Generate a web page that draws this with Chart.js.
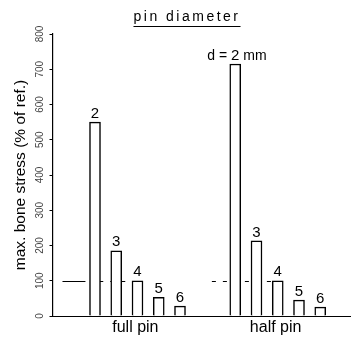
<!DOCTYPE html>
<html>
<head>
<meta charset="utf-8">
<script src="https://cdn.jsdelivr.net/npm/chart.js@4/dist/chart.umd.min.js"></script>
<style>
  html, body { margin: 0; padding: 0; background: #fff; }
  #wrap { width: 355px; height: 343px; }
</style>
</head>
<body>
<div id="wrap"><canvas id="stress"></canvas></div>
<script>
// Data
var diameters = [2, 3, 4, 5, 6];            // pin diameter d (mm)
var fullPin = [550, 185, 100, 53, 28];      // max bone stress, % of ref.
var halfPin = [715, 213, 100, 45, 25];
var groups = ['full pin', 'half pin'];
var yTicks = [0, 100, 200, 300, 400, 500, 600, 700, 800];
var refLevel = 100;

// layout only: where the half pin group sits on the x scale
var HALF_SHIFT = 6.6;
var groupCentres = [3.9, 3.9 + HALF_SHIFT];

var FONT = '"Liberation Sans", "DejaVu Sans", sans-serif';

// reference level (100 %) drawn behind the bars
var refLine = {
    id: 'refLine',
    beforeDatasetsDraw: function (chart) {
        var x = chart.scales.x, y = chart.scales.y;
        var py = Math.round(y.getPixelForValue(refLevel)) + 0.5;
        var ctx = chart.ctx;
        ctx.save();
        ctx.strokeStyle = '#000';
        ctx.lineWidth = 1;
        // full pin: solid lead-in then dashed
        ctx.beginPath();
        ctx.moveTo(x.getPixelForValue(0.47), py);
        ctx.lineTo(x.getPixelForValue(1.55), py);
        ctx.stroke();
        ctx.setLineDash([4, 7]);
        ctx.beginPath();
        ctx.moveTo(x.getPixelForValue(2.2), py);
        ctx.lineTo(x.getPixelForValue(4), py);
        ctx.moveTo(x.getPixelForValue(7.5), py);
        ctx.lineTo(x.getPixelForValue(4 + HALF_SHIFT), py);
        ctx.stroke();
        ctx.restore();
    }
};

// numbers above the bars, title with underline
var labels = {
    id: 'labels',
    afterDatasetsDraw: function (chart) {
        var ctx = chart.ctx;
        ctx.save();
        ctx.fillStyle = '#000';
        ctx.strokeStyle = '#000';
        ctx.textBaseline = 'bottom';
        chart.data.datasets.forEach(function (ds, di) {
            chart.getDatasetMeta(di).data.forEach(function (bar, i) {
                var txt = String(diameters[i]);
                ctx.font = '15px ' + FONT;
                ctx.textAlign = 'center';
                ctx.fillText(txt, bar.x, bar.y - 1);
                if (di === 1 && i === 0) {
                    var w = ctx.measureText(txt).width / 2;
                    ctx.font = '14px ' + FONT;
                    ctx.textAlign = 'right';
                    ctx.fillText('d = ', bar.x - w, bar.y - 1);
                    ctx.textAlign = 'left';
                    ctx.fillText(' mm', bar.x + w, bar.y - 1);
                }
            });
        });
        // title
        var cx = 187, ty = 21;
        ctx.font = '14px ' + FONT;
        ctx.letterSpacing = '2.5px';
        ctx.textAlign = 'center';
        ctx.textBaseline = 'alphabetic';
        var title = 'pin diameter';
        ctx.fillText(title, cx, ty);
        var tw = ctx.measureText(title).width;
        ctx.lineWidth = 1;
        ctx.beginPath();
        ctx.moveTo(cx - tw / 2, ty + 5.5);
        ctx.lineTo(cx + tw / 2, ty + 5.5);
        ctx.stroke();
        ctx.restore();
    }
};

function barSet(values, shift) {
    return {
        data: diameters.map(function (d, i) { return { x: d + shift, y: values[i] }; }),
        backgroundColor: '#fff',
        borderColor: '#000',
        borderWidth: 1.5,
        borderSkipped: 'bottom',
        barThickness: 11,
        grouped: false
    };
}

var ctx = document.getElementById('stress').getContext('2d');
var chart = new Chart(ctx, {
    type: 'bar',
    data: {
        datasets: [barSet(fullPin, 0), barSet(halfPin, HALF_SHIFT)]
    },
    options: {
        responsive: true,
        maintainAspectRatio: false,
        animation: false,
        layout: { padding: { top: 34, right: 5, left: 11.7, bottom: 3.8 } },
        plugins: {
            legend: { display: false },
            tooltip: { enabled: false },
            title: { display: false }
        },
        scales: {
            x: {
                type: 'linear',
                min: 0,
                max: 14,
                offset: false,
                afterBuildTicks: function (scale) {
                    scale.ticks = groupCentres.map(function (v) { return { value: v }; });
                },
                ticks: {
                    autoSkip: false,
                    maxRotation: 0,
                    padding: 2,
                    color: '#000',
                    font: { family: FONT, size: 16 },
                    callback: function (v, i) { return groups[i]; }
                },
                grid: { display: false, drawTicks: false },
                border: { display: true, color: '#000', width: 1 }
            },
            y: {
                min: 0,
                max: 800,
                afterBuildTicks: function (scale) {
                    scale.ticks = yTicks.map(function (v) { return { value: v }; });
                },
                ticks: {
                    minRotation: 90,
                    maxRotation: 90,
                    crossAlign: 'center',
                    padding: 0.5,
                    color: '#444',
                    font: { family: FONT, size: 10 }
                },
                grid: { drawOnChartArea: false, drawTicks: true, tickLength: 3, color: '#000' },
                border: { display: true, color: '#000', width: 1.2 },
                title: {
                    display: true,
                    text: 'max. bone stress (% of ref.)',
                    color: '#000',
                    padding: { top: 0, bottom: 6.2 },
                    font: { family: FONT, size: 15.5 }
                }
            }
        }
    },
    plugins: [refLine, labels]
});
</script>
</body>
</html>
